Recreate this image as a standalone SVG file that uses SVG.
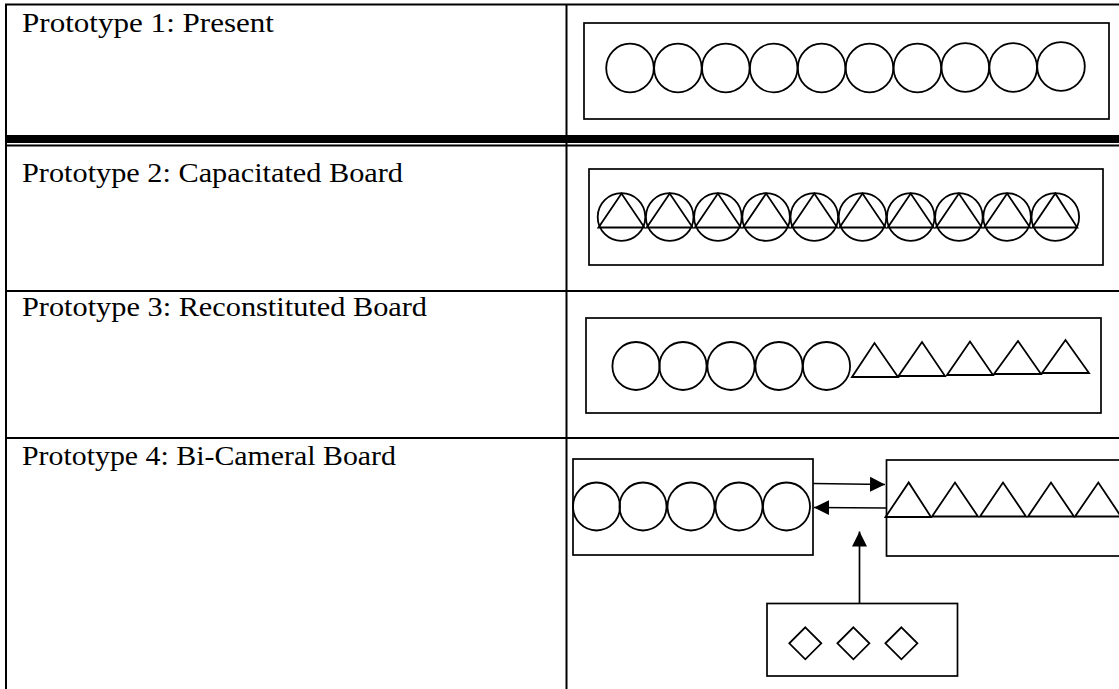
<svg xmlns="http://www.w3.org/2000/svg" width="1119" height="689" viewBox="0 0 1119 689">
<style>
.tl{stroke:#000;stroke-width:2;fill:none}
.bx{stroke:#000;stroke-width:1.7;fill:none}
.sh{stroke:#000;stroke-width:1.8;fill:none}
.lbl{font-family:"Liberation Serif",serif;font-size:27px;fill:#000}
.cn{stroke:#000;stroke-width:1.7;fill:none}
</style>
<defs>
<marker id="ah" markerUnits="userSpaceOnUse" markerWidth="16" markerHeight="16" viewBox="0 0 16 16" refX="15" refY="8" orient="auto">
<path d="M0,0.5 L15,8 L0,15.5 Z" fill="#000"/>
</marker>
</defs>
<rect width="1119" height="689" fill="#fff"/>
<g id="table">
<line class="tl" x1="5" y1="4.5" x2="1119" y2="4.5"/>
<line class="tl" x1="6" y1="4" x2="6" y2="689"/>
<line class="tl" x1="566.5" y1="4" x2="566.5" y2="689"/>
<rect x="5" y="135" width="1114" height="8" fill="#000"/>
<line class="tl" x1="5" y1="145.5" x2="1119" y2="145.5"/>
<line class="tl" x1="5" y1="291" x2="1119" y2="291"/>
<line class="tl" x1="5" y1="438" x2="1119" y2="438"/>
</g>
<g id="labels">
<text class="lbl" x="22" y="32" textLength="252" lengthAdjust="spacingAndGlyphs">Prototype 1: Present</text>
<text class="lbl" x="22" y="182" textLength="381" lengthAdjust="spacingAndGlyphs">Prototype 2: Capacitated Board</text>
<text class="lbl" x="22" y="316" textLength="405" lengthAdjust="spacingAndGlyphs">Prototype 3: Reconstituted Board</text>
<text class="lbl" x="22" y="465" textLength="374" lengthAdjust="spacingAndGlyphs">Prototype 4: Bi-Cameral Board</text>
</g>
<g id="proto1">
<rect class="bx" x="584" y="23" width="525" height="96"/>
<ellipse class="sh" cx="630" cy="68" rx="23.8" ry="24.3"/>
<ellipse class="sh" cx="677.9" cy="68" rx="23.8" ry="24.3"/>
<ellipse class="sh" cx="725.8" cy="68" rx="23.8" ry="24.3"/>
<ellipse class="sh" cx="773.7" cy="68" rx="23.8" ry="24.3"/>
<ellipse class="sh" cx="821.6" cy="68" rx="23.8" ry="24.3"/>
<ellipse class="sh" cx="869.5" cy="68" rx="23.8" ry="24.3"/>
<ellipse class="sh" cx="917.4" cy="68" rx="23.8" ry="24.3"/>
<ellipse class="sh" cx="965.3" cy="67.5" rx="23.8" ry="24.3"/>
<ellipse class="sh" cx="1013.2" cy="67.5" rx="23.8" ry="24.3"/>
<ellipse class="sh" cx="1061" cy="66.5" rx="23.8" ry="24.3"/>
</g>
<g id="proto2">
<rect class="bx" x="589" y="169" width="514" height="96"/>
<g id="p2-units">
<circle class="sh" cx="621.5" cy="217" r="23.8"/><path class="sh" d="M598.5,227.5 L621.5,193.5 L644.5,227.5 Z"/>
<circle class="sh" cx="669.7" cy="217" r="23.8"/><path class="sh" d="M646.7,227.5 L669.7,193.5 L692.7,227.5 Z"/>
<circle class="sh" cx="717.9" cy="217" r="23.8"/><path class="sh" d="M694.9,227.5 L717.9,193.5 L740.9,227.5 Z"/>
<circle class="sh" cx="766.1" cy="217" r="23.8"/><path class="sh" d="M743.1,227.5 L766.1,193.5 L789.1,227.5 Z"/>
<circle class="sh" cx="814.3" cy="217" r="23.8"/><path class="sh" d="M791.3,227.5 L814.3,193.5 L837.3,227.5 Z"/>
<circle class="sh" cx="862.5" cy="217" r="23.8"/><path class="sh" d="M839.5,227.5 L862.5,193.5 L885.5,227.5 Z"/>
<circle class="sh" cx="910.7" cy="217" r="23.8"/><path class="sh" d="M887.7,227.5 L910.7,193.5 L933.7,227.5 Z"/>
<circle class="sh" cx="958.9" cy="217" r="23.8"/><path class="sh" d="M935.9,227.5 L958.9,193.5 L981.9,227.5 Z"/>
<circle class="sh" cx="1007.1" cy="217" r="23.8"/><path class="sh" d="M984.1,227.5 L1007.1,193.5 L1030.1,227.5 Z"/>
<circle class="sh" cx="1055.3" cy="217" r="23.8"/><path class="sh" d="M1032.3,227.5 L1055.3,193.5 L1077.3,227.5 Z"/>
</g>
</g>
<g id="proto3">
<rect class="bx" x="586" y="318" width="515" height="95"/>
<ellipse class="sh" cx="636" cy="366" rx="23.6" ry="24"/>
<ellipse class="sh" cx="683" cy="366" rx="23.6" ry="24"/>
<ellipse class="sh" cx="731" cy="366" rx="23.6" ry="24"/>
<ellipse class="sh" cx="779" cy="366" rx="23.6" ry="24"/>
<ellipse class="sh" cx="826.5" cy="366" rx="23.6" ry="24"/>
<path class="sh" d="M852,377 L874.5,343 L898,377 Z"/>
<path class="sh" d="M898.5,376 L922,342 L945,376 Z"/>
<path class="sh" d="M947,375 L970,341.5 L993,375 Z"/>
<path class="sh" d="M994,374 L1018,341 L1041,374 Z"/>
<path class="sh" d="M1042,373 L1065.5,340 L1089,373 Z"/>
</g>
<g id="proto4-circles">
<rect class="bx" x="573" y="459" width="240" height="96"/>
<ellipse class="sh" cx="596.5" cy="506.5" rx="23.5" ry="24"/>
<ellipse class="sh" cx="643" cy="506.5" rx="23.5" ry="24"/>
<ellipse class="sh" cx="691" cy="506.5" rx="23.5" ry="24"/>
<ellipse class="sh" cx="739" cy="506.5" rx="23.5" ry="24"/>
<ellipse class="sh" cx="786.5" cy="506.5" rx="23.5" ry="24"/>
</g>
<g id="proto4-triangles">
<rect class="bx" x="886.5" y="460" width="260" height="96"/>
<path class="sh" d="M885.5,517 L908.7,482.5 L931,517 Z"/>
<path class="sh" d="M932,516.5 L955,482.5 L978,516.5 Z"/>
<path class="sh" d="M980,516.5 L1003,482.5 L1026,516.5 Z"/>
<path class="sh" d="M1028,516.5 L1051,482.5 L1074,516.5 Z"/>
<path class="sh" d="M1075,516.5 L1098.3,482.5 L1121,516.5 Z"/>
</g>
<g id="proto4-diamonds">
<rect class="bx" x="767" y="603.5" width="190.5" height="72.5"/>
<path class="sh" d="M805.3,627.3 L821.3,643.3 L805.3,659.3 L789.3,643.3 Z"/>
<path class="sh" d="M853.4,627.3 L869.4,643.3 L853.4,659.3 L837.4,643.3 Z"/>
<path class="sh" d="M901.4,627.3 L917.4,643.3 L901.4,659.3 L885.4,643.3 Z"/>
</g>
<g id="connectors">
<line class="cn" x1="813" y1="483.5" x2="885" y2="484.5" marker-end="url(#ah)"/>
<line class="cn" x1="886" y1="508" x2="814" y2="507.5" marker-end="url(#ah)"/>
<line class="cn" x1="859.5" y1="603.5" x2="859.5" y2="531.5" marker-end="url(#ah)"/>
</g>
</svg>
